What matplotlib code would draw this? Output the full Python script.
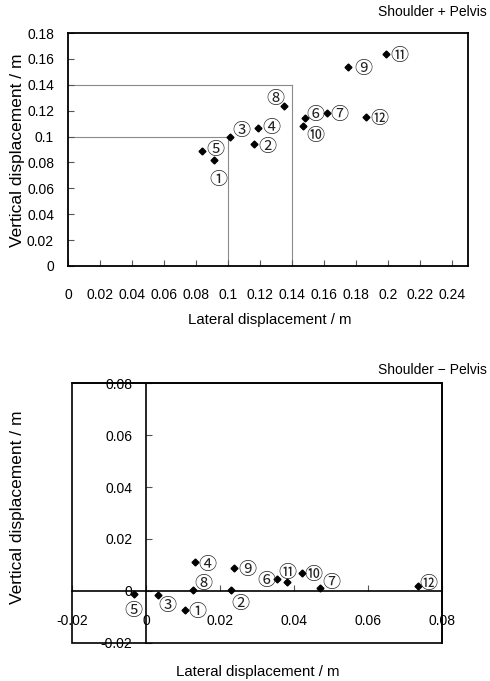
import matplotlib
matplotlib.use("Agg")
import matplotlib.pyplot as plt
from matplotlib.patches import Rectangle
from matplotlib.ticker import FixedLocator, FuncFormatter
import numpy as np

plt.rcParams["axes.unicode_minus"] = False
plt.rcParams["font.family"] = ["Liberation Sans", "DejaVu Sans"]

# subject ids 1..12
ids = list(range(1, 13))

# Shoulder + Pelvis
sum_x = [0.091, 0.116, 0.101, 0.119, 0.084, 0.148, 0.162, 0.135, 0.175, 0.147, 0.199, 0.186]
sum_y = [0.082, 0.094, 0.100, 0.107, 0.089, 0.114, 0.118, 0.124, 0.154, 0.108, 0.164, 0.115]

# Shoulder - Pelvis
diff_x = [0.0104, 0.0230, 0.0033, 0.0131, -0.0034, 0.0354, 0.0470, 0.0127, 0.0239, 0.0422, 0.0381, 0.0735]
diff_y = [-0.0074, 0.0003, -0.0015, 0.0110, -0.0013, 0.0045, 0.0010, 0.0003, 0.0090, 0.0067, 0.0035, 0.0019]

# reference boxes drawn on the upper plot
ref_levels = [0.10, 0.14]

# label offsets in pixels (dx, dy)
sum_offsets = {1: (5, -18), 2: (14, -1), 3: (12, 8), 4: (13, 2), 5: (13, 3), 6: (11, 5),
               7: (12, 0), 8: (-9, 9), 9: (15, 0), 10: (12, -8), 11: (13, 0), 12: (14, 0)}
diff_offsets = {1: (13, 0), 2: (9, -12), 3: (9, -9), 4: (13, -1), 5: (0, -15), 6: (-11, 0),
                7: (12, 7), 8: (10, 8), 9: (13, 0), 10: (11, 0), 11: (0, 11), 12: (11, 4)}

CIRCLED = ["Noto Sans CJK JP", "DejaVu Sans"]


def fmt(v, pos=None):
    v = round(v, 4)
    return "0" if v == 0 else f"{v:g}"


def circled(n):
    return chr(0x2460 + n - 1)


def draw_points(ax, xs, ys, offsets):
    ax.plot(xs, ys, "D", color="black", markersize=3.5, linestyle="none", zorder=4)
    for n, x, y in zip(ids, xs, ys):
        dx, dy = offsets[n]
        ax.annotate(circled(n), (x, y), xytext=(dx, dy), textcoords="offset pixels",
                    ha="center", va="center_baseline", fontsize=13, color="#222222",
                    family=CIRCLED, zorder=5)


fig = plt.figure(figsize=(4.9, 6.81), dpi=100)

# upper plot
ax1 = fig.add_axes([0.1388, 0.6094, 0.8163, 0.3421])
ax1.set_xlim(0, 0.25)
ax1.set_ylim(0, 0.18)
for lv in ref_levels:
    ax1.plot([0, lv], [lv, lv], color="#8a8a8a", lw=0.8, zorder=1)
    ax1.plot([lv, lv], [0, lv], color="#8a8a8a", lw=0.8, zorder=1)
draw_points(ax1, sum_x, sum_y, sum_offsets)
ax1.xaxis.set_major_locator(FixedLocator(np.arange(0, 0.2401, 0.02)))
ax1.yaxis.set_major_locator(FixedLocator(np.arange(0, 0.1801, 0.02)))
ax1.xaxis.set_major_formatter(FuncFormatter(fmt))
ax1.yaxis.set_major_formatter(FuncFormatter(fmt))
ax1.tick_params(axis="x", direction="in", length=4, pad=16, labelsize=10, color="#555555")
ax1.tick_params(axis="y", direction="in", length=4, pad=10, labelsize=10, color="#555555")
for sp in ax1.spines.values():
    sp.set_linewidth(1.3)

# lower plot, axes crossing at the origin
ax2 = fig.add_axes([0.1476, 0.0562, 0.7539, 0.3809])
ax2.set_xlim(-0.02, 0.08)
ax2.set_ylim(-0.02, 0.08)
ax2.spines["left"].set_position(("data", 0))
ax2.spines["bottom"].set_position(("data", 0))
for sp in ax2.spines.values():
    sp.set_linewidth(1.2)
ax2.add_patch(Rectangle((0, 0), 1, 1, transform=ax2.transAxes, fill=False,
                        edgecolor="black", lw=1.2, clip_on=False, zorder=3))
draw_points(ax2, diff_x, diff_y, diff_offsets)
ax2.xaxis.set_major_locator(FixedLocator(np.arange(-0.02, 0.0801, 0.02)))
ax2.yaxis.set_major_locator(FixedLocator(np.arange(-0.02, 0.0801, 0.02)))
ax2.xaxis.set_major_formatter(FuncFormatter(fmt))
ax2.yaxis.set_major_formatter(FuncFormatter(fmt))
ax2.tick_params(axis="x", direction="in", length=4, pad=17, labelsize=10, color="#555555")
ax2.tick_params(axis="y", direction="in", length=4, pad=10, labelsize=10, color="#555555")

# titles and axis labels
fig.text(487 / 490, 1 - 12 / 681, "Shoulder + Pelvis", ha="right", va="center", fontsize=10)
fig.text(487 / 490, 1 - 370 / 681, "Shoulder \u2212 Pelvis", ha="right", va="center", fontsize=10)
fig.text(18 / 490, 1 - 150 / 681, "Vertical displacement / m", rotation=90,
         ha="center", va="center", fontsize=12.5)
fig.text(18 / 490, 1 - 507 / 681, "Vertical displacement / m", rotation=90,
         ha="center", va="center", fontsize=12.5)
fig.text(270 / 490, 1 - 320 / 681, "Lateral displacement / m", ha="center", va="center",
         fontsize=10.8)
fig.text(258 / 490, 1 - 672 / 681, "Lateral displacement / m", ha="center", va="center",
         fontsize=10.8)

fig.savefig("out.png", dpi=100)
